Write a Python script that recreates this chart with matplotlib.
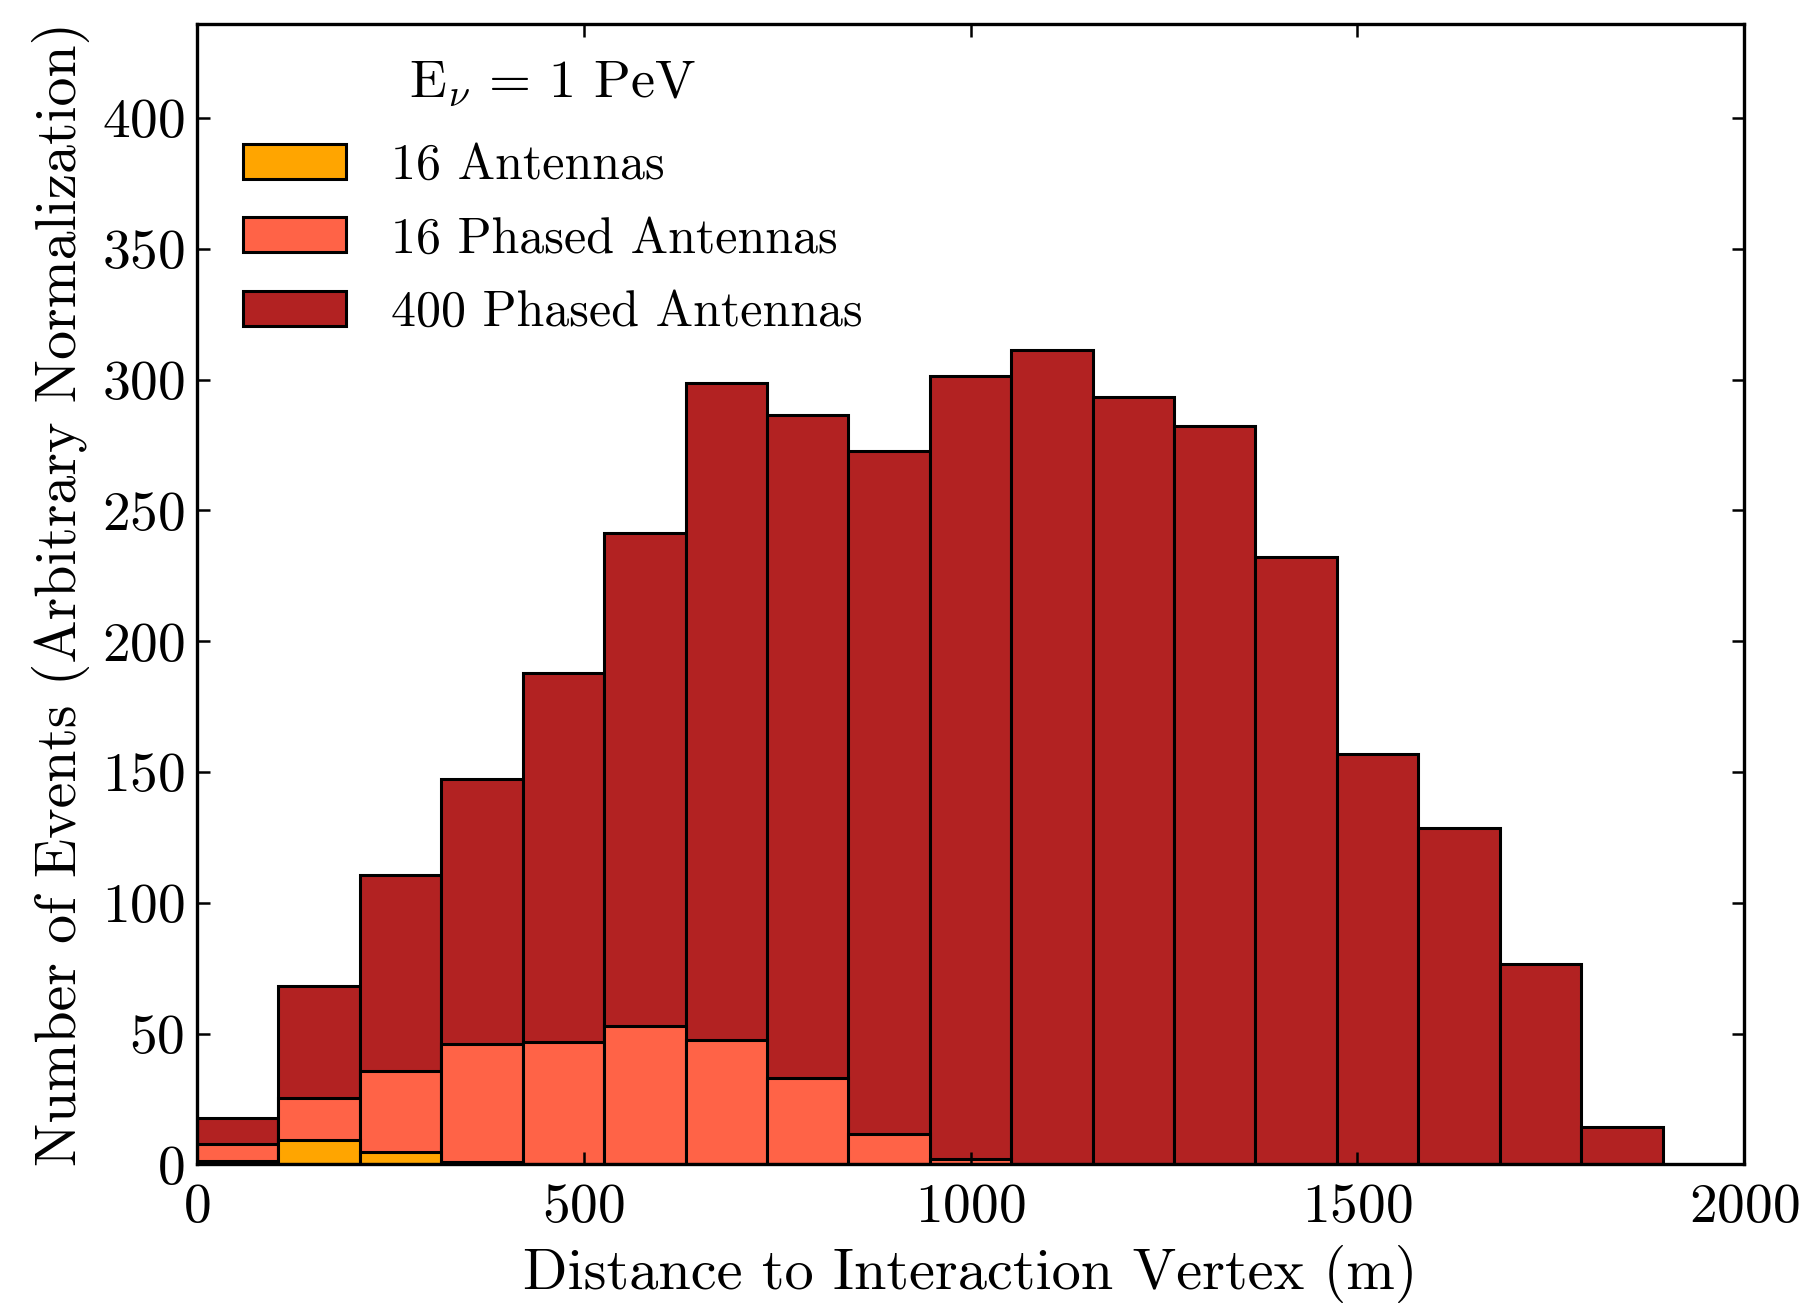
import numpy as np
import matplotlib
matplotlib.use("Agg")
import matplotlib.pyplot as plt

plt.rcParams['font.family'] = ['cmr10', 'DejaVu Serif']
plt.rcParams['mathtext.fontset'] = 'cm'
plt.rcParams['axes.formatter.use_mathtext'] = True

# Data
bin_edges = np.linspace(0, 2000, 20)[:19]
labels = ["16 Antennas", "16 Phased Antennas", "400 Phased Antennas"]
counts_16 = [1.3, 9.2, 4.9, 0.8, 0, 0, 0, 0, 0, 0, 0, 0, 0, 0, 0, 0, 0, 0]
counts_16_phased = [7.7, 25.4, 35.9, 45.9, 46.9, 53.1, 47.7, 33.1, 11.8, 1.9,
                    0, 0, 0, 0, 0, 0, 0, 0]
counts_400_phased = [17.9, 68.2, 110.8, 147.2, 188.0, 241.5, 298.7, 286.5, 272.6,
                     301.3, 311.2, 293.3, 282.2, 232.1, 157.0, 128.5, 76.5, 14.5]
colors = ["#FFA500", "#FF6347", "#B22222"]
x_ticks = [0, 500, 1000, 1500, 2000]
y_ticks = [0, 50, 100, 150, 200, 250, 300, 350, 400]

fig = plt.figure(figsize=(9.04, 6.525), dpi=200)
ax = fig.add_axes([0.109, 0.1077, 0.8556, 0.874])

widths = np.diff(bin_edges)
lefts = bin_edges[:-1]
series = [counts_16, counts_16_phased, counts_400_phased]
handles = [None] * 3
for idx in [2, 1, 0]:
    vals = np.array(series[idx])
    mask = vals > 0
    h = ax.bar(lefts[mask], vals[mask], width=widths[mask], align='edge',
               color=colors[idx], edgecolor='black', linewidth=1.1,
               label=labels[idx])
    handles[idx] = h

ax.set_xlim(0, 2000)
ax.set_ylim(0, 436)
ax.set_xticks(x_ticks)
ax.set_yticks(y_ticks)
ax.tick_params(direction='in', top=True, right=True, length=4.5, width=0.9,
               labelsize=20)
ax.tick_params(axis='x', pad=7)
ax.tick_params(axis='y', pad=4.5)
for s in ax.spines.values():
    s.set_linewidth(1.2)

ax.set_xlabel("Distance to Interaction Vertex (m)", fontsize=21, labelpad=4)
ax.set_ylabel("Number of Events (Arbitrary Normalization)", fontsize=20.8, labelpad=4)

leg = ax.legend(handles=handles, labels=labels, loc='center left',
                bbox_to_anchor=(0.017, 0.811), frameon=False, fontsize=18,
                handlelength=2.05, handleheight=0.7, labelspacing=0.55,
                handletextpad=0.9, borderaxespad=0.0)
ax.text(0.2295, 0.947, r"E$_\nu$ = 1 PeV", transform=ax.transAxes,
        ha='center', va='center', fontsize=19.5)

fig.savefig("out.png", dpi=200)
